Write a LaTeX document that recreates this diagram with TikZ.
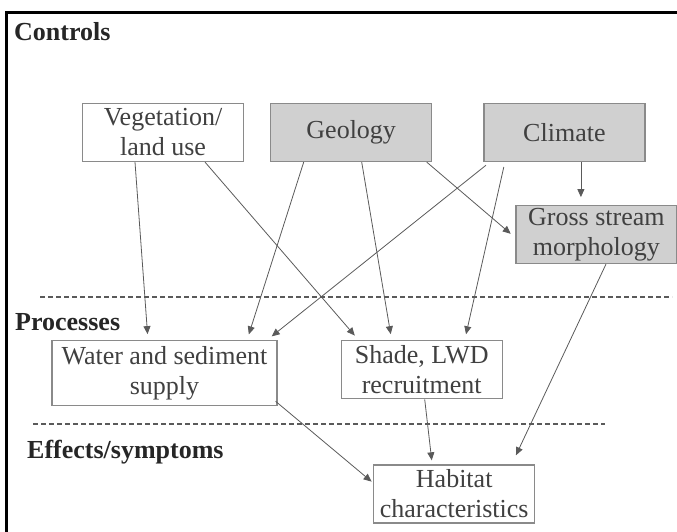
\documentclass[tikz,border=0pt]{standalone}
\usepackage{fontspec}
\setmainfont{Liberation Serif}
\usetikzlibrary{positioning,arrows.meta}
\definecolor{boxgray}{HTML}{D0D0D0}
\definecolor{linegray}{HTML}{5A5A5A}
\definecolor{rimgray}{HTML}{8A8A8A}
\definecolor{txtgray}{HTML}{404040}

\begin{document}
\begin{tikzpicture}[x=1pt, y=-1pt,
  factor/.style={draw=rimgray, line width=1.2pt, minimum width=161pt, minimum height=58pt,
    inner sep=0pt, align=center, text=txtgray, font=\fontsize{26}{30}\selectfont},
  control/.style={factor, fill=boxgray},
  level/.style={anchor=west, inner sep=0pt, text=black!85, font=\fontsize{26}{30}\selectfont\bfseries},
  link/.style={draw=linegray, line width=0.8pt, -{Triangle[length=8pt,width=7pt]}, shorten >=6pt},
  divider/.style={draw=linegray, line width=1.3pt, dash pattern=on 5pt off 3pt}]

  \useasboundingbox (0,0) rectangle (677,532);
  \draw[line width=3pt] (6,532) -- (6,13) -- (677,13);

  % Define nodes
  \node[factor]                                   (veg)  at (163,132.5) {Vegetation/\\land use};
  \node[control, right=26pt of veg]               (geo)  {Geology};
  \node[control, right=51pt of geo]               (cli)  {Climate};
  \node[control, below=43pt of cli, xshift=32pt]  (gross) {Gross stream\\morphology};
  \node[factor, below=178pt of veg, xshift=1.5pt, minimum width=225pt, minimum height=65pt]
                                                  (water) {Water and sediment\\supply};
  \node[factor, below=178pt of geo, xshift=70.5pt] (shade) {Shade, LWD\\recruitment};
  \node[factor, below=65pt of shade, xshift=32.5pt] (hab) {Habitat\\characteristics};

  % Levels
  \node[level] (controls)  at (14,32)  {Controls};
  \node[level] (processes) at (15,322) {Processes};
  \node[level] (effects)   at (27,452) {Effects/symptoms};

  \coordinate (d1l) at (40,297);  \coordinate (d1r) at (672,297);
  \coordinate (d2l) at (33,424);  \coordinate (d2r) at (605,424);
  \draw[divider] (d1l) -- (d1r);
  \draw[divider] (d2l) -- (d2r);

  % Connect the nodes
  \draw[link] ([xshift=-28pt]veg.south) -- ([xshift=-16.5pt]water.north);
  \draw[link] ([xshift=42pt]veg.south) -- ([xshift=-63pt]shade.north);
  \draw[link] ([xshift=-47.5pt]geo.south) -- ([xshift=82.5pt]water.north);
  \draw[link] ([xshift=10.5pt]geo.south) -- ([xshift=-30pt]shade.north);
  \draw[link] ([xshift=75.5pt]geo.south) -- ([yshift=-3pt]gross.west);
  \draw[link, shorten <=5pt] ([xshift=-74.5pt]cli.south) -- ([xshift=102.5pt]water.north);
  \draw[link, shorten <=5pt] ([xshift=-59.5pt]cli.south) -- ([xshift=43pt]shade.north);
  \draw[link, shorten >=8pt] ([xshift=16.5pt]cli.south) -- ([xshift=-15.5pt]gross.north);
  \draw[link, shorten >=10pt] ([xshift=9.5pt]gross.south) -- ([xshift=57.5pt]hab.north);
  \draw[link, shorten >=2pt] ([xshift=-2pt, yshift=5pt]water.south east) -- ([yshift=11pt]hab.west);
  \draw[link, shorten >=4pt] ([xshift=3pt]shade.south) -- ([xshift=-22pt]hab.north);

\end{tikzpicture}
\end{document}
